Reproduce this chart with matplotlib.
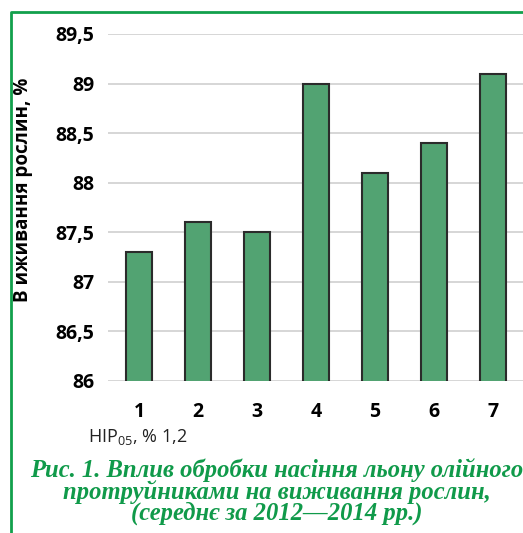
import matplotlib
matplotlib.use("Agg")
import matplotlib.pyplot as plt
from matplotlib.lines import Line2D

# =====================
# DATA
# =====================
categories = ["1", "2", "3", "4", "5", "6", "7"]
survival = [87.3, 87.6, 87.5, 89.0, 88.1, 88.4, 89.1]
y_ticks = [86, 86.5, 87, 87.5, 88, 88.5, 89, 89.5]
y_tick_labels = ["86", "86,5", "87", "87,5", "88", "88,5", "89", "89,5"]

W, H = 523, 533
plt.rcParams['font.family'] = ['Open Sans', 'DejaVu Sans']

fig = plt.figure(figsize=(W / 100, H / 100), dpi=100)

# axes in pixel terms: x 108..523, y 34..381 from top
ax = fig.add_axes([108 / W, 1 - 381 / H, (523 - 108) / W, (381 - 34) / H])

x = list(range(1, len(categories) + 1))
ax.bar(x, survival, width=0.44, bottom=0, color="#52a372",
       edgecolor="#2b2b2b", linewidth=1.5, zorder=3)

ax.set_ylim(86, 89.5)
ax.set_xlim(0.475, 7.51)
ax.set_yticks(y_ticks)
ax.set_yticklabels(y_tick_labels, fontsize=14, fontweight="bold")
ax.set_xticks(x)
ax.set_xticklabels(categories, fontsize=14, fontweight="bold")
ax.tick_params(axis="both", length=0)
ax.tick_params(axis="y", pad=10)
ax.tick_params(axis="x", pad=15)
ax.grid(axis="y", color="#d0d0d0", linewidth=1.2, zorder=0)
for s in ax.spines.values():
    s.set_visible(False)

# y label
fig.text(23 / W, 1 - 190 / H, "В иживання рослин, %", fontsize=13.5,
         fontweight="bold", rotation=90, ha="center", va="center")

fig.text(88 / W, 1 - 437 / H, r"НІР$_{\mathregular{05}}$, % 1,2", fontsize=13,
         va="center", ha="left", color="#222222")

caption = ("Рис. 1. Вплив обробки насіння льону олійного\n"
           "протруйниками на виживання рослин,\n"
           "(середнє за 2012—2014 рр.)")
fig.text(277 / W, 1 - 458 / H, caption, fontsize=17.7, color="#109a4a",
         family="Liberation Serif", style="italic", fontweight="bold",
         ha="center", va="top", linespacing=0.9, multialignment="center")

# green frame (left + top)
frame = Line2D([10.5 / W, 10.5 / W, 1.0], [0.0, 1 - 12 / H, 1 - 12 / H],
               transform=fig.transFigure, color="#12a04c", linewidth=2.0)
fig.add_artist(frame)

plt.savefig("out.png", dpi=100)
